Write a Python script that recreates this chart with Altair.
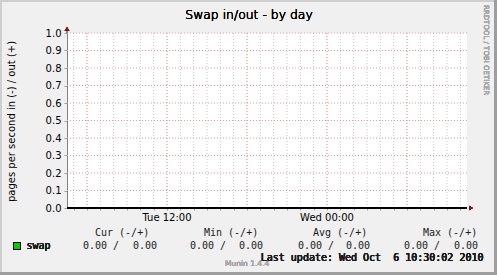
import altair as alt
import pandas as pd

# ---------------- data ----------------
series_times = ["2010-10-05T04:30:02Z", "2010-10-05T10:30:02Z", "2010-10-05T16:30:02Z",
                "2010-10-05T22:30:02Z", "2010-10-06T04:30:02Z", "2010-10-06T10:30:02Z"]
swap_values = [0.0, 0.0, 0.0, 0.0, 0.0, 0.0]

range_start = "2010-10-05T04:30:02Z"
range_end = "2010-10-06T10:30:02Z"

x_label_times = ["2010-10-05T12:00:00Z", "2010-10-06T00:00:00Z"]
x_label_texts = ["Tue 12:00", "Wed 00:00"]
y_ticks = [0.0, 0.1, 0.2, 0.3, 0.4, 0.5, 0.6, 0.7, 0.8, 0.9, 1.0]

stat_names = ["Cur", "Min", "Avg", "Max"]
swap_in_stats = [0.00, 0.00, 0.00, 0.00]
swap_out_stats = [0.00, 0.00, 0.00, 0.00]

series_name = "swap"
chart_title = "Swap in/out - by day"
y_title = "pages per second in (-) / out (+)"
last_update = "Last update: Wed Oct \u00a06 10:30:02 2010"
watermark = "RRDTOOL / TOBI OETIKER"
munin_version = "Munin 1.4.4"

# ---------------- layout (pixels) ----------------
PL, PT, PW, PH = 67, 33, 400, 175
head_x = [95, 204, 313, 423]
val_start_x = [83, 190, 298, 404]
val_end_x = [157, 263, 370, 478]


def ms(s):
    return int(pd.Timestamp(s).value // 10**6)


t0, t1 = ms(range_start), ms(range_end)
hours = [int(h.value // 10**6) for h in pd.date_range("2010-10-05T05:00:00Z", "2010-10-06T10:00:00Z", freq="h")]
major = [h for h in hours if pd.Timestamp(h, unit="ms").hour % 6 == 0]

df = pd.DataFrame({"t": [ms(s) for s in series_times], "v": swap_values})
minor_df = pd.DataFrame({"t": hours})
major_df = pd.DataFrame({"t": major})
hgrid_df = pd.DataFrame({"v": y_ticks[1:]})
xlab_df = pd.DataFrame({"t": [ms(s) for s in x_label_times], "label": x_label_texts})

xscale = alt.Scale(type="utc", domain=[t0, t1], nice=False)
yscale = alt.Scale(domain=[0, 1], nice=False, zero=False)

x_axis = alt.Axis(values=hours, labels=False, tickSize=2, tickColor="#a0a0a0", domain=False,
                  grid=False, title=None)
y_axis = alt.Axis(
    values=y_ticks, format=".1f", labelFont="DejaVu Sans", labelFontSize=10, labelColor="black",
    labelFontWeight="normal", labelOverlap=False, labelFlush=False,
    tickSize=3, tickColor="#a0a0a0", domainColor="#808080", grid=False, labelPadding=3,
    title=y_title, titleFont="DejaVu Sans", titleFontSize=10, titleFontWeight="normal",
    titleColor="black", titleX=-56, titleY=88, titleBaseline="middle", titleAlign="center", titleAngle=270)

leg = pd.DataFrame({
    "head": [f"{s} (-/+)" for s in stat_names],
    "inv": [f"{v:.2f} /" for v in swap_in_stats],
    "outv": [f"{v:.2f}" for v in swap_out_stats],
    "hx": [x - PL for x in head_x],
    "sx": [x - PL for x in val_start_x],
    "ex": [x - PL for x in val_end_x],
})

base = alt.Chart(df)

line = base.mark_line(color="#00cc00", strokeWidth=2).encode(
    x=alt.X("t:T", scale=xscale, axis=x_axis),
    y=alt.Y("v:Q", scale=yscale, axis=y_axis),
)

minor_grid = alt.Chart(minor_df).mark_rule(color="#c8c8c8", strokeDash=[1, 2], strokeWidth=1).encode(
    x=alt.X("t:T", scale=xscale, axis=x_axis))
major_grid = alt.Chart(major_df).mark_rule(color="#ee9a9a", strokeDash=[1, 2], strokeWidth=1).encode(
    x=alt.X("t:T", scale=xscale, axis=x_axis))
h_grid = alt.Chart(hgrid_df).mark_rule(color="#ee9a9a", strokeDash=[1, 2], strokeWidth=1).encode(
    y=alt.Y("v:Q", scale=yscale, axis=y_axis))

x_labels = alt.Chart(xlab_df).mark_text(font="DejaVu Sans", fontSize=10, align="center", baseline="middle",
                                         color="black", fontWeight="normal").encode(
    x=alt.X("t:T", scale=xscale, axis=x_axis), y=alt.value(PH + 9.5), text="label:N")

zero_line = base.mark_rule(color="black", strokeWidth=2).encode(y=alt.Y(datum=0, scale=yscale, axis=y_axis))

y_ext = base.mark_rule(color="#808080").encode(x=alt.value(0), y=alt.value(-5), y2=alt.value(0))
arrow_up = base.mark_point(shape="triangle-up", filled=True, color="#8b1010", opacity=1, size=22, yOffset=-4).encode(
    x=alt.value(0), y=alt.value(0))
arrow_right = base.mark_point(shape="triangle-right", filled=True, color="#8b1010", opacity=1, size=22, xOffset=4).encode(
    x=alt.X(datum=t1, type="temporal", scale=xscale, axis=x_axis),
    y=alt.Y(datum=0, scale=yscale, axis=y_axis))

title_mark = base.mark_text(text=chart_title, font="DejaVu Sans", fontSize=12.4, align="center",
                            baseline="alphabetic", color="black", fontWeight=300).encode(
    x=alt.value(249 - PL), y=alt.value(18.5 - PT))

mono = "DejaVu Sans Mono"
MT = dict(font=mono, fontSize=10, baseline="middle", color="#1a1a1a", fontWeight="normal")
heads = alt.Chart(leg).mark_text(align="left", **MT).encode(
    x=alt.X("hx:Q", scale=None), y=alt.value(233 - PT), text="head:N")
ins = alt.Chart(leg).mark_text(align="left", **MT).encode(
    x=alt.X("sx:Q", scale=None), y=alt.value(246 - PT), text="inv:N")
outs = alt.Chart(leg).mark_text(align="right", **MT).encode(
    x=alt.X("ex:Q", scale=None), y=alt.value(246 - PT), text="outv:N")

swatch = base.mark_rect(color="#00cc00", stroke="black", strokeWidth=1).encode(
    x=alt.value(13.5 - PL), x2=alt.value(20.5 - PL), y=alt.value(242.5 - PT), y2=alt.value(249.5 - PT))
swap_label = base.mark_text(text=series_name, align="left", **MT).encode(
    x=alt.value(26.5 - PL), y=alt.value(246 - PT))

munin_txt = base.mark_text(text=munin_version, font="DejaVu Sans", fontSize=7.5, align="left",
                           baseline="middle", color="#a8a8a8", fontWeight="normal").encode(
    x=alt.value(225 - PL), y=alt.value(264 - PT))
update_txt = base.mark_text(text=last_update, align="right", **MT).encode(
    x=alt.value(483.5 - PL), y=alt.value(257.5 - PT))
wm = base.mark_text(text=watermark, font="DejaVu Sans", fontSize=7, angle=90, align="left",
                    baseline="middle", color="#a8a8a8", fontWeight="normal").encode(
    x=alt.value(486 - PL), y=alt.value(5 - PT))

W, H = 497, 275
border_left = base.mark_rect(color="#cfcfcf").encode(
    x=alt.value(-PL), x2=alt.value(-PL + 2), y=alt.value(-PT), y2=alt.value(H - PT))
border_top = base.mark_rect(color="#cfcfcf").encode(
    x=alt.value(-PL), x2=alt.value(W - PL), y=alt.value(-PT), y2=alt.value(-PT + 2))
border_right = base.mark_rect(color="#9e9e9e").encode(
    x=alt.value(W - 3 - PL), x2=alt.value(W - PL), y=alt.value(-PT), y2=alt.value(H - PT))
border_bottom = base.mark_rect(color="#9e9e9e").encode(
    x=alt.value(-PL), x2=alt.value(W - PL), y=alt.value(H - 3 - PT), y2=alt.value(H - PT))

chart = alt.layer(
    line, minor_grid, major_grid, h_grid, zero_line, y_ext, arrow_up, arrow_right, x_labels,
    title_mark, heads, ins, outs, swatch, swap_label, munin_txt, update_txt, wm,
    border_left, border_top, border_right, border_bottom,
).properties(
    width=PW, height=PH,
    padding={"left": PL, "top": PT, "right": W - PL - PW, "bottom": H - PT - PH},
    autosize=alt.AutoSizeParams(type="none"),
    background="#f0f0f0",
).configure_view(fill="white", stroke=None).configure_axis(labelOverlap=False)

chart.save("out.html", embed_options={"renderer": "svg", "actions": False})
